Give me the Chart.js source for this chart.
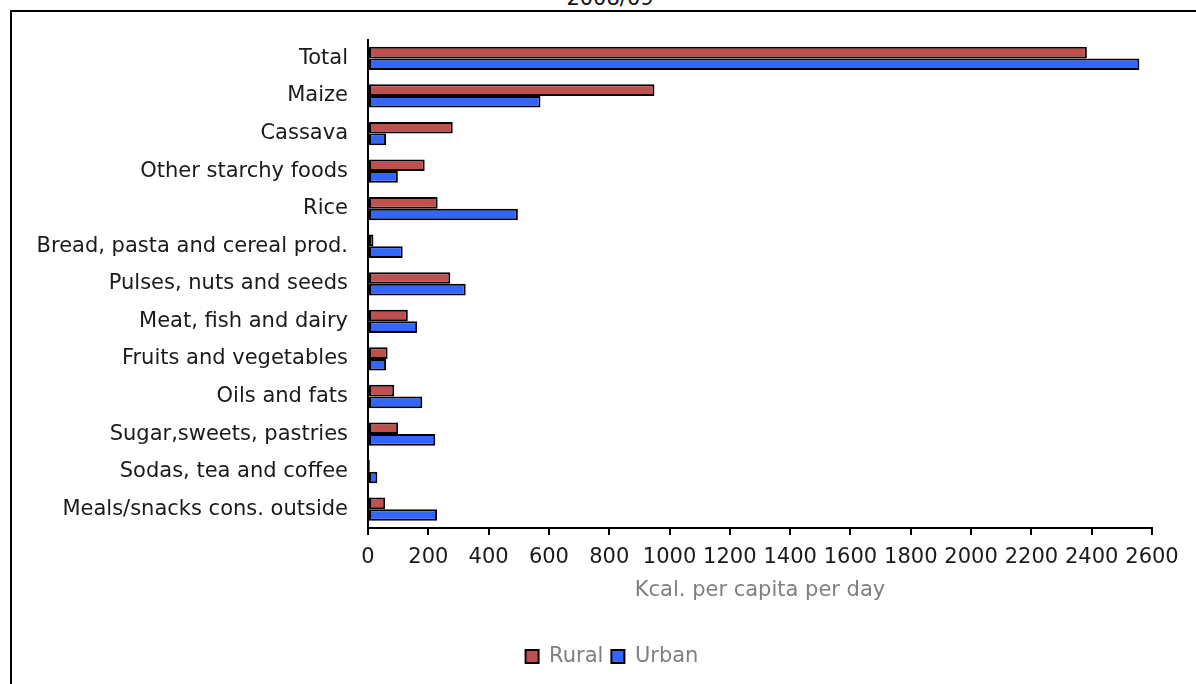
<!DOCTYPE html>
<html>
<head>
<meta charset="utf-8">
<script src="https://cdn.jsdelivr.net/npm/chart.js@4"></script>
<style>
  html, body { margin: 0; padding: 0; width: 1196px; height: 684px; overflow: hidden; background: #fff; }
  #title { position: absolute; left: 0; width: 1220px; top: -14px; text-align: center;
           font: 21px "DejaVu Sans", sans-serif; line-height: 24px; color: #111; }
  #frame { position: absolute; left: 10px; top: 10px; width: 1200px; height: 700px;
           border: 2px solid #000; background: #fff; }
  #wrap { position: absolute; left: 0; top: -5px; width: 1200px; height: 680px; }
</style>
</head>
<body>
<div id="title">2008/09</div>
<div id="frame"><div id="wrap"><canvas id="c"></canvas></div></div>
<script>
const categories = [
  "Total", "Maize", "Cassava", "Other starchy foods", "Rice",
  "Bread, pasta and cereal prod.", "Pulses, nuts and seeds", "Meat, fish and dairy",
  "Fruits and vegetables", "Oils and fats", "Sugar,sweets, pastries",
  "Sodas, tea and coffee", "Meals/snacks cons. outside"
];
const rural = [2384, 950, 281, 188, 231, 18, 273, 132, 65, 87, 100, 6, 57];
const urban = [2558, 572, 60, 99, 497, 115, 324, 163, 60, 180, 223, 31, 229];
const seriesNames = ["Rural", "Urban"];
const xTicks = { min: 0, max: 2600, step: 200 };
const xTitle = "Kcal. per capita per day";

const FONT = "'DejaVu Sans', Verdana, sans-serif";

const legendShift = {
  id: 'legendShift',
  beforeDraw(chart) {
    const lg = chart.legend;
    if (lg && !lg._shifted) { lg.left += 30; lg.right += 30; lg._shifted = true; }
  },
  afterUpdate(chart) { if (chart.legend) chart.legend._shifted = false; }
};

new Chart(document.getElementById('c'), {
  type: 'bar',
  data: {
    labels: categories,
    datasets: [
      { label: seriesNames[0], data: rural, backgroundColor: '#C0504D', borderColor: '#000',
        borderWidth: 2, borderSkipped: false },
      { label: seriesNames[1], data: urban, backgroundColor: '#3366FF', borderColor: '#000',
        borderWidth: 2, borderSkipped: false }
    ]
  },
  plugins: [legendShift],
  options: {
    indexAxis: 'y',
    responsive: true,
    maintainAspectRatio: false,
    animation: false,
    datasets: { bar: { categoryPercentage: 0.62, barPercentage: 1.0 } },
    layout: { padding: { top: 23, left: 0, right: 60, bottom: 10 } },
    plugins: {
      title: { display: false },
      tooltip: { enabled: false },
      legend: {
        position: 'bottom',
        labels: {
          boxWidth: 13, boxHeight: 13, padding: 8,
          color: '#7f7f7f', font: { family: FONT, size: 21 }
        }
      }
    },
    scales: {
      x: {
        type: 'linear', min: xTicks.min, max: xTicks.max,
        ticks: { stepSize: xTicks.step, color: '#1a1a1a', font: { family: FONT, size: 21 }, padding: 10,
                 maxRotation: 0, autoSkip: false, callback: (v) => String(v) },
        grid: { drawOnChartArea: false, drawTicks: true, tickLength: 7, color: '#000', lineWidth: 2 },
        border: { display: true, color: '#000', width: 2 },
        title: { display: true, text: xTitle, color: '#7f7f7f', font: { family: FONT, size: 21 }, padding: { top: 0, bottom: 35 } },
        afterFit: (s) => { s.height = 110; }
      },
      y: {
        ticks: { color: '#1a1a1a', font: { family: FONT, size: 21 }, padding: 20, autoSkip: false },
        grid: { drawOnChartArea: false, drawTicks: false },
        border: { display: true, color: '#000', width: 2 },
        afterFit: (s) => { s.width = 356; }
      }
    }
  }
});
</script>
</body>
</html>
